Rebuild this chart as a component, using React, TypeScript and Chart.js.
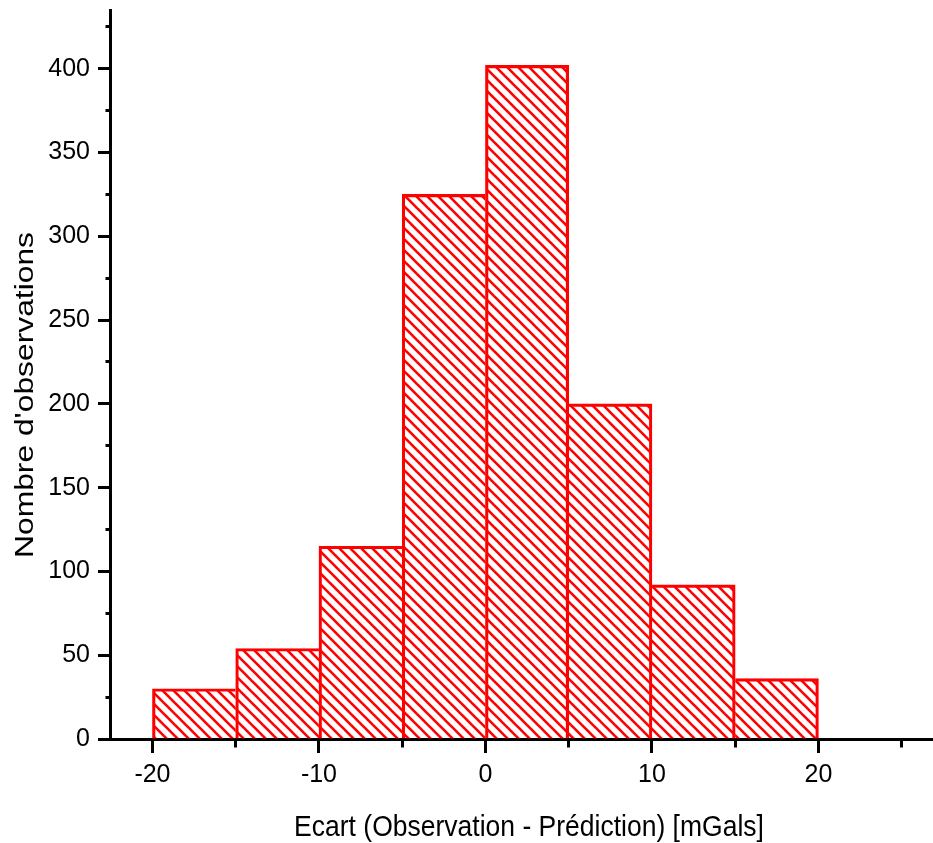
import React, { useEffect, useRef } from 'react';
import { Chart, registerables } from 'chart.js';

Chart.register(...registerables);

// ---- data ----
const binEdges = [-20, -15, -10, -5, 0, 5, 10, 15, 20];
const counts = [30, 54, 115, 325, 402, 200, 92, 36];
const xMajorTicks = [-20, -10, 0, 10, 20];
const xMinorTicks = [-15, -5, 5, 15, 25];
const yMajorTicks = [0, 50, 100, 150, 200, 250, 300, 350, 400];
const yMinorTicks = [25, 75, 125, 175, 225, 275, 325, 375, 425];
const xRange = [-22.55, 26.88];
const yRange = [0, 435];
const xTitle = 'Ecart (Observation - Prédiction) [mGals]';
const yTitle = "Nombre d'observations";

const FONT = '"Liberation Sans", Arial, sans-serif';
const RED = '#ff0000';

function makeHatch(ctx: CanvasRenderingContext2D) {
  const s = 11;
  const c = document.createElement('canvas');
  c.width = s;
  c.height = s;
  const g = c.getContext('2d')!;
  g.strokeStyle = RED;
  g.lineWidth = 2.6;
  for (const k of [-1, 0, 1]) {
    g.beginPath();
    g.moveTo(k * s - 2, -2);
    g.lineTo(k * s + s + 2, s + 2);
    g.stroke();
  }
  return ctx.createPattern(c, 'repeat');
}

const align = (p: number, w: number) => Math.round(p - w / 2) + w / 2;

const decorPlugin = {
  id: 'decor',
  afterDraw(chart: any) {
    const { ctx, chartArea, scales } = chart;
    const x = scales.x;
    const y = scales.y;
    ctx.save();
    ctx.strokeStyle = '#000';
    ctx.lineWidth = 3;
    ctx.lineCap = 'butt';
    const bottom = align(chartArea.bottom, 3);
    const left = align(chartArea.left, 3);
    for (const v of xMinorTicks) {
      const px = align(x.getPixelForValue(v), 3);
      ctx.beginPath();
      ctx.moveTo(px, bottom);
      ctx.lineTo(px, bottom + 8);
      ctx.stroke();
    }
    for (const v of yMinorTicks) {
      const py = align(y.getPixelForValue(v), 3);
      ctx.beginPath();
      ctx.moveTo(left - 5, py);
      ctx.lineTo(left, py);
      ctx.stroke();
    }
    // x axis line extends slightly left of the y axis
    ctx.beginPath();
    ctx.moveTo(left - 12, bottom);
    ctx.lineTo(left, bottom);
    ctx.stroke();

    // axis titles
    ctx.fillStyle = '#000';
    ctx.textBaseline = 'alphabetic';

    ctx.save();
    ctx.font = `26.5px ${FONT}`;
    ctx.textAlign = 'center';
    ctx.translate(529, 836);
    ctx.scale(1, 1.13);
    ctx.fillText(xTitle, 0, 0);
    ctx.restore();

    ctx.save();
    ctx.font = `26.5px ${FONT}`;
    ctx.textAlign = 'left';
    ctx.translate(33, 558);
    ctx.rotate(-Math.PI / 2);
    ctx.scale(1.2, 1);
    ctx.fillText(yTitle, 0, 0);
    ctx.restore();

    ctx.restore();
  },
};

export default function App() {
  const ref = useRef<HTMLCanvasElement>(null);

  useEffect(() => {
    const canvas = ref.current!;
    const ctx = canvas.getContext('2d')!;
    const hatch = makeHatch(ctx);
    const centers = counts.map((_, i) => (binEdges[i] + binEdges[i + 1]) / 2);
    const bw = 2.5;
    const n = counts.length;

    const chart = new Chart(canvas, {
      type: 'bar',
      data: {
        datasets: [
          {
            data: centers.map((c, i) => ({ x: c, y: counts[i] })),
            backgroundColor: hatch as any,
            borderColor: RED,
            borderSkipped: false,
            borderWidth: (c: any) => {
              const i = c.dataIndex;
              return {
                top: bw,
                bottom: 0,
                left: i === 0 || counts[i] >= counts[i - 1] ? bw : 0,
                right: i === n - 1 || counts[i] > counts[i + 1] ? bw : 0,
              };
            },
            barPercentage: 1,
            categoryPercentage: 1,
          } as any,
        ],
      },
      options: {
        responsive: false,
        animation: false,
        layout: { padding: { top: 10, left: 0, right: 0, bottom: 0 } },
        plugins: { legend: { display: false }, tooltip: { enabled: false } },
        scales: {
          x: {
            type: 'linear',
            min: xRange[0],
            max: xRange[1],
            offset: false,
            z: 1,
            border: { display: true, color: '#000', width: 3 },
            grid: {
              display: true,
              offset: false,
              drawOnChartArea: false,
              drawTicks: true,
              tickLength: 14,
              tickWidth: 3,
              tickColor: '#000',
            },
            afterBuildTicks: (s: any) => {
              s.ticks = xMajorTicks.map((v) => ({ value: v }));
            },
            ticks: {
              color: '#000',
              font: { family: FONT, size: 25 },
              padding: 7,
              maxRotation: 0,
              autoSkip: false,
              callback: (v: any) => String(v),
            },
            afterFit: (s: any) => {
              s.height = 104;
              s.paddingLeft = 0;
              s.paddingRight = 0;
            },
          } as any,
          y: {
            type: 'linear',
            min: yRange[0],
            max: yRange[1],
            z: 1,
            border: { display: true, color: '#000', width: 3 },
            grid: {
              display: true,
              drawOnChartArea: false,
              drawTicks: true,
              tickLength: 12,
              tickWidth: 3,
              tickColor: '#000',
            },
            afterBuildTicks: (s: any) => {
              s.ticks = yMajorTicks.map((v) => ({ value: v }));
            },
            ticks: {
              color: '#000',
              font: { family: FONT, size: 25 },
              padding: 8,
              autoSkip: false,
              callback: (v: any) => String(v),
            },
            afterFit: (s: any) => {
              s.width = 110;
              s.paddingTop = 0;
              s.paddingBottom = 0;
            },
          } as any,
        },
      },
      plugins: [decorPlugin],
    });
    return () => chart.destroy();
  }, []);

  return (
    <canvas
      ref={ref}
      width={933}
      height={843}
      style={{ position: 'absolute', left: 0, top: 0, width: 933, height: 843 }}
    />
  );
}
